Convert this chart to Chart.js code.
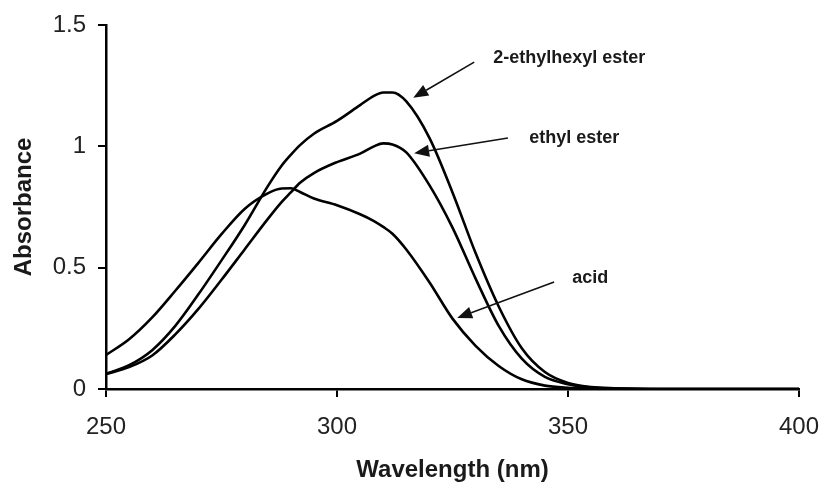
<!DOCTYPE html>
<html>
<head>
<meta charset="utf-8">
<script src="https://cdn.jsdelivr.net/npm/chart.js@4.4.1/dist/chart.umd.min.js"></script>
<style>
  html, body { margin: 0; padding: 0; background: #fff; }
  #wrap { width: 822px; height: 483px; position: relative; }
</style>
</head>
<body>
<div id="wrap"><canvas id="specChart"></canvas></div>
<script>
// wavelength (nm)
const wavelengths = [250, 255, 260, 265, 270, 275, 280, 285, 288, 290, 292, 295, 300, 305, 308, 310, 312, 315, 320, 325, 330, 335, 340, 345, 350, 355, 360, 370, 380, 390, 400];

// absorbance
const acid =            [0.14, 0.205, 0.295, 0.405, 0.52, 0.638, 0.742, 0.806, 0.826, 0.827, 0.812, 0.785, 0.757, 0.72, 0.692, 0.668, 0.64, 0.575, 0.44, 0.29, 0.178, 0.095, 0.04, 0.014, 0.005, 0.002, 0.001, 0, 0, 0, 0];
const ethylhexylEster = [0.062, 0.098, 0.16, 0.26, 0.39, 0.53, 0.675, 0.835, 0.92, 0.965, 1.005, 1.052, 1.105, 1.17, 1.208, 1.222, 1.222, 1.185, 1.035, 0.81, 0.56, 0.34, 0.168, 0.07, 0.025, 0.008, 0.003, 0, 0, 0, 0];
const ethylEster =      [0.062, 0.09, 0.138, 0.225, 0.33, 0.45, 0.575, 0.70, 0.77, 0.81, 0.85, 0.89, 0.935, 0.97, 1.0, 1.012, 1.008, 0.975, 0.84, 0.665, 0.455, 0.26, 0.125, 0.05, 0.02, 0.006, 0.002, 0, 0, 0, 0];

const xTicks = [250, 300, 350, 400];
const yTicks = [0, 0.5, 1, 1.5];

// arrow labels, in data units (nm, absorbance)
const notes = [
    { text: '2-ethylhexyl ester', tip: [316.5, 1.2],  tail: [329.7, 1.347], at: [333.8, 1.362] },
    { text: 'ethyl ester',        tip: [316.7, 0.972], tail: [337.0, 1.034], at: [341.6, 1.034] },
    { text: 'acid',               tip: [326.0, 0.293], tail: [347.0, 0.441], at: [350.9, 0.457] },
];

const toPoints = (ys) => ys.map((y, i) => ({ x: wavelengths[i], y }));

const arrowNotes = {
    id: 'arrowNotes',
    afterDatasetsDraw(chart) {
        const { ctx, scales: { x, y } } = chart;
        ctx.save();
        notes.forEach(n => {
            const tx = x.getPixelForValue(n.tip[0]), ty = y.getPixelForValue(n.tip[1]);
            const sx = x.getPixelForValue(n.tail[0]), sy = y.getPixelForValue(n.tail[1]);
            const ang = Math.atan2(ty - sy, tx - sx);
            const headLen = 15, headW = 6;
            const bx = tx - headLen * Math.cos(ang), by = ty - headLen * Math.sin(ang);

            ctx.strokeStyle = '#111';
            ctx.lineWidth = 1.6;
            ctx.beginPath();
            ctx.moveTo(sx, sy);
            ctx.lineTo(bx, by);
            ctx.stroke();

            ctx.fillStyle = '#111';
            ctx.beginPath();
            ctx.moveTo(tx, ty);
            ctx.lineTo(bx + headW * Math.sin(ang), by - headW * Math.cos(ang));
            ctx.lineTo(bx - headW * Math.sin(ang), by + headW * Math.cos(ang));
            ctx.closePath();
            ctx.fill();

            ctx.font = 'bold 18px "Liberation Sans", Arial, sans-serif';
            ctx.textAlign = 'left';
            ctx.textBaseline = 'middle';
            ctx.fillStyle = '#1a1a1a';
            ctx.fillText(n.text, x.getPixelForValue(n.at[0]), y.getPixelForValue(n.at[1]));
        });
        ctx.restore();
    }
};

const lineStyle = {
    borderColor: '#000',
    borderWidth: 2.6,
    pointRadius: 0,
    fill: false,
    cubicInterpolationMode: 'monotone',
};

const tickFont = { family: '"Liberation Sans", Arial, sans-serif', size: 24 };
const titleFont = { family: '"Liberation Sans", Arial, sans-serif', size: 24, weight: 'bold' };

new Chart(document.getElementById('specChart'), {
    type: 'line',
    data: {
        datasets: [
            { label: 'acid', data: toPoints(acid), ...lineStyle },
            { label: '2-ethylhexyl ester', data: toPoints(ethylhexylEster), ...lineStyle },
            { label: 'ethyl ester', data: toPoints(ethylEster), ...lineStyle },
        ],
    },
    options: {
        responsive: true,
        maintainAspectRatio: false,
        animation: false,
        layout: { padding: { left: 0, right: 23, top: 25, bottom: 0 } },
        plugins: { legend: { display: false }, tooltip: { enabled: false } },
        scales: {
            x: {
                type: 'linear',
                min: 250,
                max: 400,
                afterBuildTicks: (s) => { s.ticks = xTicks.map(v => ({ value: v })); },
                afterFit: (s) => { s.height = 94; s.paddingLeft = 0; s.paddingRight = 0; },
                ticks: { font: tickFont, color: '#222', padding: 16, maxRotation: 0 },
                grid: { drawOnChartArea: false, tickLength: 8, color: '#000', lineWidth: 2 },
                border: { color: '#000', width: 2.5 },
                title: { display: true, text: 'Wavelength (nm)', font: titleFont, color: '#1a1a1a', padding: { top: 0, bottom: -2 } },
            },
            y: {
                min: 0,
                max: 1.5,
                afterBuildTicks: (s) => { s.ticks = yTicks.map(v => ({ value: v })); },
                afterFit: (s) => { s.width = 106; s.paddingTop = 0; s.paddingBottom = 0; },
                ticks: { font: tickFont, color: '#222', padding: 12, callback: (v) => String(v) },
                grid: { drawOnChartArea: false, tickLength: 8, color: '#000', lineWidth: 2 },
                border: { color: '#000', width: 2.5 },
                title: { display: true, text: 'Absorbance', font: titleFont, color: '#1a1a1a', padding: { top: 10, bottom: 0 } },
            },
        },
    },
    plugins: [arrowNotes],
});
</script>
</body>
</html>
